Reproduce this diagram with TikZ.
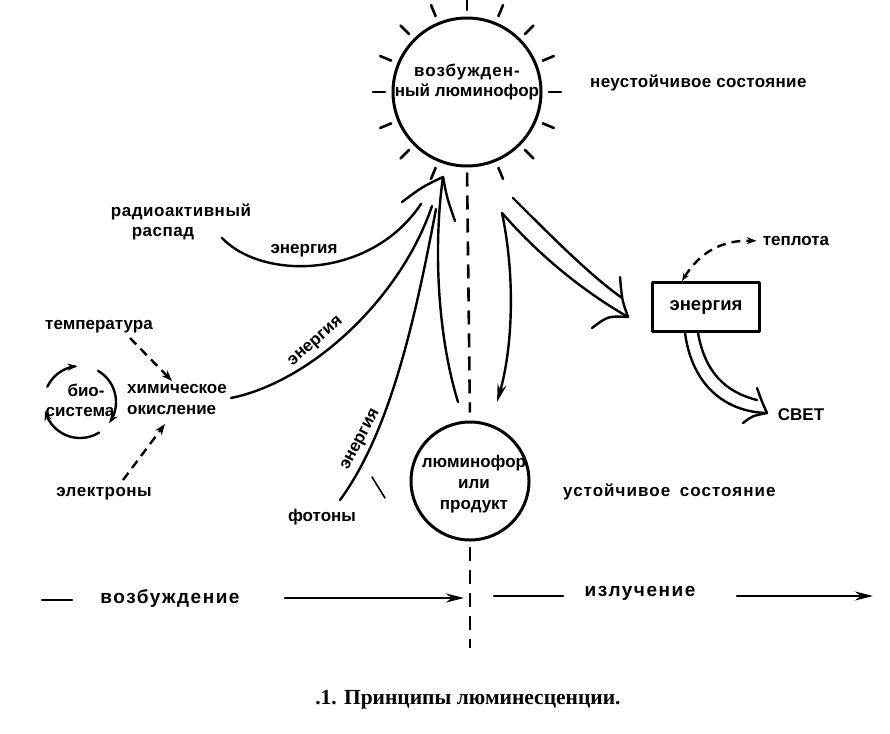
\documentclass[tikz,border=0pt]{standalone}
\usepackage{fontspec}
\setmainfont{Liberation Sans}
\newfontfamily\capfont{Liberation Serif}
\usetikzlibrary{arrows.meta}
\begin{document}
\begin{tikzpicture}[x=1pt,y=-1pt,line cap=round,line join=round,
  lbl/.style={font=\bfseries\fontsize{17}{20}\selectfont,inner sep=0pt,align=center},
  biglbl/.style={font=\bfseries\fontsize{19}{22}\selectfont\addfontfeature{LetterSpace=8},inner sep=0pt},
  ln/.style={line width=2.4pt},
  circ/.style={circle,draw,line width=3pt,inner sep=0pt},
  rayln/.style={line width=2.6pt},
  dsh/.style={line width=2.6pt,dash pattern=on 14pt off 9pt,line cap=butt},
  dsh2/.style={line width=2.4pt,dash pattern=on 9pt off 6pt,line cap=butt},
  bigtip/.style={-{Stealth[length=18pt,width=9pt]}},
  smalltip/.style={-{Stealth[length=11pt,width=8pt]}},
  ]
\useasboundingbox (0,0) rectangle (890,733);

% ---------- excited phosphor ----------
\node[circ,minimum size=148pt] (exc) at (467,92) {};
\node[lbl] (exct) at (467,82) {{\addfontfeature{LetterSpace=6}возбужден-}\\ный люминофор};
\foreach \a in {0,22.5,45,67.5,112.5,135,...,337.5}
  \draw[rayln,shift={(467,92)}] (\a:82) -- (\a:94);
\node[lbl,anchor=west] (unst) at (590,83) {\addfontfeature{LetterSpace=2}неустойчивое состояние};

% ---------- product ----------
\node[circ,minimum size=118pt] (prod) at (470,481) {};
\node[lbl,font=\bfseries\fontsize{17}{21}\selectfont] (prodt) at (474,484) {люминофор\\или\\продукт};
\node[lbl,anchor=west] (st) at (563,492) {\addfontfeature{LetterSpace=6}устойчивое\hspace{4pt} состояние};

% ---------- axis ----------
\coordinate (axbot) at (470,648);
\draw[dsh,shorten <=5pt,shorten >=8pt] (exc.south) -- (prod.north);
\draw[dsh,shorten <=5pt] (prod.south) -- (axbot);

% ---------- apex arrowhead ----------
\coordinate (apex) at (443,177);
\coordinate (lb) at (402,202);
\coordinate (rb) at (455,221);
\draw[ln] (lb) .. controls (422,187) .. (apex) .. controls (447,198) .. (rb);

% ---------- sources ----------
\node[lbl] (radio) at (181,212) {\addfontfeature{LetterSpace=3}радиоактивный};
\node[lbl] (rasp) at (163,234) {\addfontfeature{LetterSpace=3}распад};
\coordinate (c1s) at (222,238);
\coordinate (c1e) at (421,204);
\draw[ln] (c1s) .. controls (262,280) and (370,280) .. (c1e);
\node[lbl] (en1) at (304,251) {энергия};

\node[lbl] (temp) at (99,327) {температура};
\node[lbl,anchor=west] (him) at (127,389) {химическое};
\node[lbl,anchor=west] (okis) at (127,410) {окисление};
\node[lbl] (el) at (104,494) {\addfontfeature{LetterSpace=3}электроны};
\coordinate (c2s) at (231,398);
\coordinate (c2e) at (432,206);
\draw[ln] (c2s) .. controls (310,382) and (400,300) .. (c2e);
\node[lbl,rotate=41] (en2) at (316,342) {энергия};

\coordinate (t1) at (130,338);
\coordinate (t2) at (172,381);
\draw[dsh2,smalltip] (t1) -- (t2);
\coordinate (e1) at (123,480);
\coordinate (e2) at (165,424);
\draw[dsh2,smalltip] (e1) -- (e2);

% bio-system
\node[lbl] (bio) at (86,390) {био-};
\node[lbl] (sys) at (80,412) {система};
\draw[ln,-{Stealth[length=10pt,width=7pt]}] plot[domain=205:266,samples=16] ({80+36*cos(\x)},{402+36*sin(\x)});
\draw[ln,-{Stealth[length=10pt,width=7pt]}] plot[domain=300:396,samples=20] ({80+36*cos(\x)},{402+36*sin(\x)});
\draw[ln,-{Stealth[length=10pt,width=7pt]}] plot[domain=58:166,samples=20] ({80+36*cos(\x)},{402+36*sin(\x)});

\node[lbl] (foto) at (322,517) {фотоны};
\coordinate (c3s) at (340,500);
\coordinate (c3e) at (436,209);
\draw[ln] (c3s) .. controls (390,432) and (415,320) .. (c3e);
\node[lbl,rotate=62] (en3) at (361,440) {энергия};
\draw[line width=1.6pt] (372,477) -- (385,498);

\coordinate (c4s) at (458,402);
\draw[ln] (c4s) .. controls (436,330) and (434,240) .. (apex);

% ---------- right side ----------
\coordinate (rs) at (502,213);
\coordinate (rd) at (497,402);
\draw[ln,bigtip] (rs) .. controls (516,280) and (512,350) .. (rd);

\coordinate (h1t) at (628,317);
\coordinate (h1o) at (513,198);
\coordinate (h1m) at (622,298);
\coordinate (h1a) at (620,277);
\coordinate (h1b) at (592,328);
\draw[ln] (rs) .. controls (545,262) and (590,295) .. (h1t);
\draw[ln] (h1o) .. controls (555,240) and (590,275) .. (h1m);
\draw[ln] (h1a) .. controls (622,300) .. (h1t) .. controls (608,316) .. (h1b);

\node[draw,line width=3pt,minimum width=107pt,minimum height=49pt,lbl,font=\bfseries\fontsize{18.5}{22}\selectfont] (box) at (706,307) {энергия};
\node[lbl] (heat) at (796,241) {теплота};
\draw[dsh2,{Stealth[length=8pt,width=6pt]}-{Stealth[length=10pt,width=7pt]},shorten >=6pt]
  ([xshift=-24pt]box.north) .. controls (700,252) and (722,240) .. (heat.west);

\coordinate (h2t) at (767,413);
\coordinate (h2m) at (757,400);
\coordinate (h2a) at (757,388);
\coordinate (h2b) at (743,423);
\draw[ln] ([xshift=-21pt]box.south) .. controls (692,385) and (725,412) .. (h2t);
\draw[ln] ([xshift=-8pt]box.south) .. controls (705,372) and (725,392) .. (h2m);
\draw[ln] (h2a) .. controls (762,402) .. (h2t) .. controls (752,416) .. (h2b);
\node[lbl,font=\bfseries\fontsize{17}{20}\selectfont] (light) at (801,415) {СВЕТ};

% ---------- bottom ----------
\node[biglbl] (vozb) at (170,598) {возбуждение};
\node[biglbl] (izl) at (640,593) {излучение};
\coordinate (b1) at (42,600);
\coordinate (b2) at (72,600);
\coordinate (b3) at (285,598);
\coordinate (b4) at (464,598);
\coordinate (b5) at (494,596);
\coordinate (b6) at (563,596);
\coordinate (b7) at (737,596);
\coordinate (b8) at (873,596);
\draw[ln] (b1) -- (b2);
\draw[ln,bigtip] (b3) -- (b4);
\draw[ln] (b5) -- (b6);
\draw[ln,bigtip] (b7) -- (b8);

\node[font=\capfont\bfseries\fontsize{21.5}{24}\selectfont,inner sep=0pt] (cap) at (468,700) {.1. Принципы люминесценции.};
\end{tikzpicture}
\end{document}
